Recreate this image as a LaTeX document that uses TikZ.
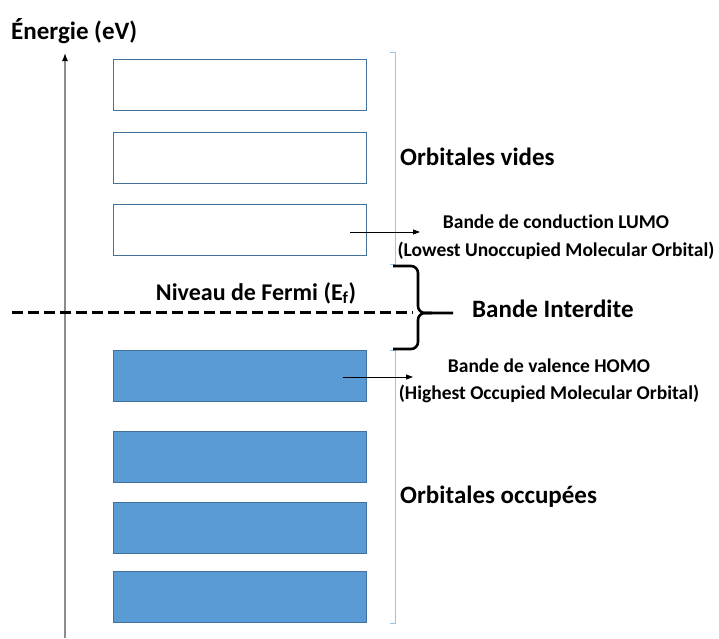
\documentclass[tikz,border=0pt]{standalone}
\usepackage{fontspec}
\setmainfont[Ligatures=NoCommon]{Carlito}
\usetikzlibrary{arrows.meta}

\definecolor{bandfill}{HTML}{5B9BD5}
\definecolor{bandline}{HTML}{41719C}
\definecolor{groupline}{HTML}{9DC3E6}
\definecolor{axisgray}{HTML}{8C8C8C}

\begin{document}
\begin{tikzpicture}[x=1pt, y=-1pt,
    band/.style={rectangle, draw=bandline, line width=1pt, inner sep=0pt,
      minimum width=253pt, minimum height=51pt},
    emptyband/.style={band, fill=white},
    fullband/.style={band, fill=bandfill},
    bigtext/.style={inner sep=0pt, font=\fontsize{25}{30}\selectfont\bfseries},
    smalltext/.style={inner sep=0pt, align=center, font=\fontsize{19.5}{27.5}\selectfont\bfseries},
    grouping/.style={draw=groupline, line width=0.8pt},
    bracestyle/.style={draw=black, line width=2.6pt, rounded corners=7pt},
    pointer/.style={draw=black, line width=0.8pt, -{Triangle[length=7pt,width=5pt]}}]

  \useasboundingbox (0,0) rectangle (719,638);

  % energy axis
  \coordinate (axbot) at (65,638);
  \coordinate (axtop) at (65,53);
  \draw[axisgray, line width=1.3pt, -{Latex[length=8pt,width=6pt,color=black]}] (axbot) -- (axtop);
  \node[bigtext, anchor=west] (energie) at (11,31) {Énergie (eV)};

  % empty orbitals
  \node[emptyband] (v1) at (239.5,85) {};
  \node[emptyband] (v2) at (239.5,157.5) {};
  \node[emptyband] (v3) at (239.5,230) {};

  % occupied orbitals
  \node[fullband] (o1) at (239.5,375.5) {};
  \node[fullband] (o2) at (239.5,456.5) {};
  \node[fullband] (o3) at (239.5,527.5) {};
  \node[fullband] (o4) at (239.5,597) {};

  % groups
  \draw[grouping] (390,52) -- (395,52) -- (395,264) -- (390,264);
  \draw[grouping] (390,350) -- (395,350) -- (395,623) -- (390,623);
  \node[bigtext, anchor=west] (vides) at (400,157) {Orbitales vides};
  \node[bigtext, anchor=west] (occupees) at (400,497) {Orbitales occupées};

  % Fermi level and gap
  \draw[black, line width=3pt, dash pattern=on 11pt off 5pt] (12,312) -- (413,312);
  \node[bigtext, font=\fontsize{24}{28}\selectfont\bfseries] (fermi) at (256,293) {Niveau de Fermi (E\textsubscript{f})};
  \draw[bracestyle] (393,266) -- (418,266) -- (418,313) -- (453,313);
  \draw[bracestyle] (393,349) -- (418,349) -- (418,313) -- (432,313);
  \node[bigtext, anchor=west] (interdite) at (472,309) {Bande Interdite};

  % LUMO / HOMO
  \node[smalltext] (lumo) at (556,237) {Bande de conduction LUMO\\(Lowest Unoccupied Molecular Orbital)};
  \node[smalltext] (homo) at (549,381) {Bande de valence HOMO\\(Highest Occupied Molecular Orbital)};
  \coordinate (lumostart) at (350,232);
  \coordinate (lumoend) at (420,232);
  \coordinate (homostart) at (343,377);
  \coordinate (homoend) at (413,377);
  \draw[pointer] (lumostart) -- (lumoend);
  \draw[pointer] (homostart) -- (homoend);

\end{tikzpicture}
\end{document}
